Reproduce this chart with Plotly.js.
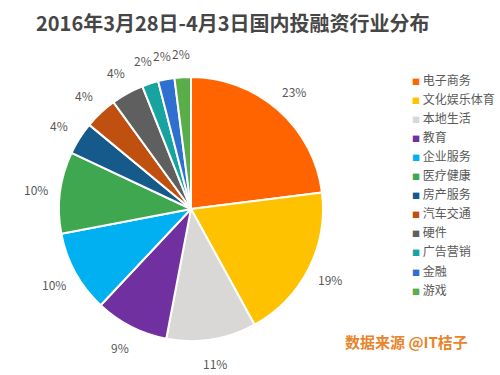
<!DOCTYPE html>
<html><head><meta charset="utf-8">
<script src="https://cdn.plot.ly/plotly-3.0.1.min.js"></script>
<style>body{margin:0;background:#fff}#c{width:500px;height:375px}</style>
</head><body><div id="c"></div>
<script>
const categories = ["电子商务","文化娱乐体育","本地生活","教育","企业服务","医疗健康","房产服务","汽车交通","硬件","广告营销","金融","游戏"];
const shares = [23,19,11,9,10,10,4,4,4,2,2,2];
const colors = ["#FF6400","#FFC200","#D9D8D6","#7030A0","#00B0F0","#3FA74F","#155A8A","#C0500F","#5F5F5F","#17A3A0","#2F6FD0","#5AAE4A"];
const W = 500, H = 375;
const cx = 191, cy = 209, r = 132, labelR = 156;
const font = "Noto Sans CJK SC, sans-serif";

const trace = {
  type: "pie",
  labels: categories,
  values: shares,
  textinfo: "none",
  sort: false,
  direction: "clockwise",
  rotation: 0,
  marker: {colors: colors, line: {color: "#ffffff", width: 2}},
  domain: {x: [(cx - r)/W, (cx + r)/W], y: [1 - (cy + r)/H, 1 - (cy - r)/H]},
  automargin: false,
  hoverinfo: "none",
  showlegend: false
};

const total = shares.reduce((a, b) => a + b, 0);
const annotations = [];
let cum = 0;
shares.forEach((v) => {
  const mid = (cum + v / 2) / total * 2 * Math.PI;
  cum += v;
  annotations.push({
    text: Math.round(v / total * 100) + "%",
    x: (cx + labelR * Math.sin(mid)) / W,
    y: 1 - (cy - labelR * Math.cos(mid)) / H,
    xref: "paper", yref: "paper", xanchor: "center", yanchor: "middle",
    showarrow: false,
    font: {family: font, size: 12, color: "#595959"}
  });
});
// legend
const legX = 410, legY0 = 79, legStep = 19.1;
categories.forEach((c, i) => {
  annotations.push({
    text: '<span style="color:' + colors[i] + ';font-size:8px">■</span> ' + c,
    x: legX / W, y: 1 - (legY0 + i * legStep) / H,
    xref: "paper", yref: "paper", xanchor: "left", yanchor: "middle",
    showarrow: false,
    font: {family: font, size: 12, color: "#595959"}
  });
});
annotations.push({text: "<b>数据来源 @IT桔子</b>", x: 470 / W, y: 1 - 341 / H, xref: "paper", yref: "paper",
  xanchor: "right", yanchor: "middle", showarrow: false,
  font: {family: font, size: 15, color: "#E8842A"}});

const layout = {
  width: W, height: H,
  margin: {l: 0, r: 0, t: 0, b: 0},
  paper_bgcolor: "#ffffff",
  showlegend: false,
  title: {text: "<b>2016年3月28日-4月3日国内投融资行业分布</b>", x: 36 / W, xanchor: "left", y: 1 - 24 / H, yanchor: "middle",
    font: {family: font, size: 20, color: "#464646"}},
  annotations: annotations
};
Plotly.newPlot("c", [trace], layout, {displayModeBar: false, staticPlot: true});
</script></body></html>
